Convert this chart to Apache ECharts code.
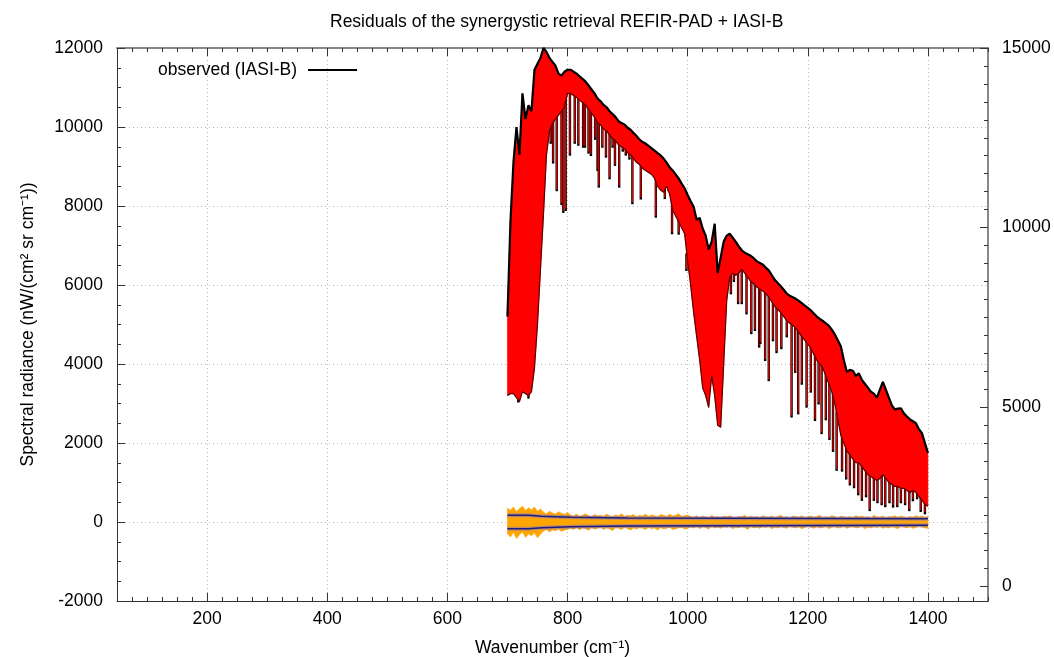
<!DOCTYPE html>
<html><head><meta charset="utf-8">
<script src="https://cdn.jsdelivr.net/npm/echarts@6/dist/echarts.min.js"></script>
<style>html,body{margin:0;padding:0;background:#fff}#c{width:1054px;height:657px}</style>
</head><body><div id="c"></div>
<script>
// ---- data ----
const wavenumbers = [
700,705,710,715,720,725,730,735,740,745,
750,755,760,765,770,775,780,785,790,795,
800,805,810,815,820,825,830,835,840,845,
850,855,860,865,870,875,880,885,890,895,
900,905,910,915,920,925,930,935,940,945,
950,955,960,965,970,975,980,985,990,995,
1000,1005,1010,1015,1020,1025,1030,1035,1040,1045,
1050,1055,1060,1065,1070,1075,1080,1085,1090,1095,
1100,1105,1110,1115,1120,1125,1130,1135,1140,1145,
1150,1155,1160,1165,1170,1175,1180,1185,1190,1195,
1200,1205,1210,1215,1220,1225,1230,1235,1240,1245,
1250,1255,1260,1265,1270,1275,1280,1285,1290,1295,
1300,1305,1310,1315,1320,1325,1330,1335,1340,1345,
1350,1355,1360,1365,1370,1375,1380,1385,1390,1395,
1400];
// upper envelope of the observed spectrum in each 5 cm-1 bin
const observedTop = [
5200,7600,9100,10000,9300,10850,10200,10550,10400,11450,
11600,11750,12000,11900,11750,11650,11550,11350,11300,11400,
11450,11450,11400,11350,11280,11220,11150,11050,10950,10850,
10720,10650,10560,10500,10400,10330,10250,10150,10100,10060,
9980,9930,9850,9770,9680,9620,9580,9520,9460,9400,
9340,9280,9200,9100,8980,8900,8800,8700,8570,8450,
8280,8120,7980,7650,7700,7430,7250,6900,7100,7550,
6300,6700,7100,7250,7300,7200,7100,6980,6880,6820,
6780,6740,6680,6600,6560,6520,6440,6370,6250,6130,
6050,5970,5880,5780,5730,5690,5650,5600,5540,5480,
5420,5360,5280,5200,5140,5090,5030,4970,4870,4750,
4600,4450,4100,3800,3850,3830,3700,3760,3600,3500,
3400,3300,3250,3150,3350,3550,3350,3150,2950,2850,
2870,2880,2750,2670,2600,2550,2500,2350,2250,2000,
1750];
// lower edge of the dense line mass in each bin
const observedBase = [
3200,3250,3250,3150,3050,3300,3250,3200,3300,3900,
5000,6400,7800,9300,9900,10100,10200,10300,10400,10500,
10850,10850,10800,10750,10680,10620,10550,10450,10350,10250,
10100,10050,9950,9900,9800,9700,9650,9550,9500,9450,
9350,9300,9200,9100,9050,8950,8900,8850,8800,8700,
8500,8400,8350,8500,8300,7900,7750,7600,7450,7300,
6600,6000,5300,4700,4100,3400,3200,2900,3700,3200,
2450,2400,4000,5600,6200,6300,6250,6300,6400,6300,
6200,6090,6030,5950,5900,5850,5780,5700,5580,5460,
5380,5300,5200,5100,5030,4980,4900,4800,4700,4600,
4500,4400,4250,4100,4000,3900,3700,3500,3300,3000,
2600,2200,2000,1800,1700,1600,1500,1500,1400,1300,
1200,1150,1100,1050,1100,1200,1100,1000,950,900,
900,850,850,800,750,800,750,650,550,450,
400];
// deep absorption lines: [wavenumber, bottom radiance]
const absorptionLines = [
[718,3050],[735,3150],[772,9600],[776,9100],[782,8400],[790,8050],[793,7850],[797,7900],
[804,9300],[812,9600],[818,9550],[826,9500],[829,9500],[835,9350],[839,9290],[846,9700],
[850,8910],[852,8490],[858,9500],[864,9250],[870,8700],[875,9500],[879,9040],[886,8490],
[892,9400],[897,9300],[903,9200],[908,8070],[915,9330],[922,8190],[927,9000],[932,9200],
[940,8900],[947,7730],[952,8500],[962,8200],[968,8400],[974,7310],[985,7300],[998,6380],
[1072,5790],[1077,6100],[1084,5540],[1090,5540],[1098,5280],[1106,4780],[1112,4860],
[1119,4440],[1121,4530],[1129,4100],[1135,3590],[1142,4600],[1148,4300],[1156,4400],
[1165,4700],[1173,2670],[1179,3800],[1184,2750],[1190,3500],[1198,2920],[1205,3300],
[1212,2580],[1218,3000],[1223,2250],[1230,2600],[1236,2100],[1242,1800],[1248,1320],
[1257,1300],[1264,1100],[1270,950],[1277,880],[1284,700],[1290,560],[1297,650],[1303,300],
[1310,560],[1316,500],[1323,450],[1329,400],[1336,500],[1342,390],[1349,400],[1355,500],
[1362,450],[1369,300],[1375,550],[1382,600],[1388,280],[1395,220]];
// residual (observed - calculated): max and min in each bin
const residualHigh = [
350,300,380,260,340,400,290,360,310,380,
270,330,250,210,270,230,200,260,220,190,
240,180,150,200,140,170,210,160,130,190,
150,170,140,200,160,130,180,150,210,140,
170,160,190,130,170,150,200,140,180,160,
130,190,170,140,200,150,170,210,140,160,
180,140,120,160,110,150,130,100,170,120,
140,110,150,130,160,120,100,140,130,170,
110,150,120,140,100,160,130,120,150,110,
140,170,120,130,100,150,140,120,160,110,
130,150,120,140,170,110,130,120,160,140,
100,150,130,120,140,110,160,130,150,120,
140,100,170,130,120,150,110,140,130,160,
120,150,130,110,140,120,160,130,150,120,
140];
const residualLow = [
-300,-380,-260,-420,-320,-250,-390,-300,-350,-280,
-400,-310,-230,-190,-250,-200,-220,-180,-240,-200,
-190,-160,-190,-140,-200,-150,-170,-210,-140,-180,
-160,-130,-190,-150,-170,-220,-140,-160,-190,-130,
-170,-200,-150,-180,-140,-160,-190,-130,-170,-150,
-200,-140,-180,-160,-130,-190,-170,-150,-140,-180,
-160,-130,-150,-110,-170,-120,-140,-180,-110,-150,
-130,-160,-120,-140,-110,-170,-130,-150,-120,-140,
-190,-110,-150,-130,-160,-120,-140,-110,-170,-130,
-150,-120,-140,-160,-110,-130,-150,-120,-170,-140,
-110,-130,-160,-120,-150,-140,-110,-170,-130,-120,
-150,-140,-110,-160,-130,-120,-150,-140,-110,-170,
-130,-150,-120,-140,-110,-160,-130,-150,-120,-140,
-170,-110,-130,-150,-120,-160,-140,-110,-130,-150,
-160];
// noise level (NESR) steps
const nesrWn  = [700, 735, 757, 805, 900, 1400];
const nesrVal = [170, 147, 118, 100, 85, 85];
// tick labels
const xTickLabels  = [200, 400, 600, 800, 1000, 1200, 1400];
const y2TickLabels = [0, 5000, 10000, 15000];

// ---- build options ----
const pairs = (xs, ys) => xs.map((x, i) => [x, ys[i]]);
const y2Minor = [];
for (let v = 0; v <= 15000; v += 500) y2Minor.push(v);

const font = 'Liberation Sans, Arial, sans-serif';
const FS = 17.5;
const XMIN = 50, XMAX = 1500;
const axisCol = '#333';
const plain = v => String(v);

// band between two per-bin curves, drawn as one polygon through the axes' scales
function bandSeries(upper, lower, color) {
  return {
    type: 'custom', xAxisIndex: 1, yAxisIndex: 0, silent: true, clip: true,
    data: pairs(wavenumbers, upper), encode: {x: 0, y: 1},
    renderItem: function (params, api) {
      if (params.dataIndex !== 0) return null;
      const pts = [];
      for (let i = 0; i < wavenumbers.length; i++) pts.push(api.coord([wavenumbers[i], upper[i]]));
      for (let i = wavenumbers.length - 1; i >= 0; i--) pts.push(api.coord([wavenumbers[i], lower[i]]));
      return {type: 'polygon', shape: {points: pts}, style: {fill: color, stroke: color, lineWidth: 0.6}};
    }
  };
}

const chart = echarts.init(document.getElementById('c'), null, {renderer: 'canvas'});
chart.setOption({
  animation: false,
  backgroundColor: '#fff',
  textStyle: {fontFamily: font},
  title: {
    text: 'Residuals of the synergystic retrieval REFIR-PAD + IASI-B',
    left: 325, top: 8,
    textStyle: {fontFamily: font, fontSize: FS, fontWeight: 'normal', color: '#000'}
  },
  legend: {
    data: ['observed (IASI-B)'],
    left: 153, top: 56, align: 'right',
    icon: 'rect', itemWidth: 49, itemHeight: 2,
    selectedMode: false,
    textStyle: {fontFamily: font, fontSize: FS, color: '#000', padding: [0, 6, 0, 0]}
  },
  grid: {left: 117, right: 66, top: 48, bottom: 56, containLabel: false, outerBoundsMode: 'none'},
  xAxis: [
    { // bottom minor ticks + axis line
      type: 'value', position: 'bottom', min: XMIN, max: XMAX, interval: 25,
      axisLine: {show: true, onZero: false, lineStyle: {color: axisCol, width: 1}},
      axisTick: {show: true, inside: true, length: 4, lineStyle: {color: axisCol}},
      axisLabel: {show: false}, splitLine: {show: false}
    },
    { // bottom major ticks, labels, grid
      type: 'value', position: 'bottom', min: XMIN, max: XMAX,
      name: 'Wavenumber (cm\u207B\u00B9)', nameLocation: 'middle', nameGap: 38,
      nameTextStyle: {fontFamily: font, fontSize: FS, color: '#000'},
      axisLine: {show: false, onZero: false},
      axisTick: {show: true, inside: true, length: 8, customValues: xTickLabels, lineStyle: {color: axisCol}},
      axisLabel: {show: true, customValues: xTickLabels, formatter: plain, margin: 9, fontFamily: font, fontSize: FS, color: '#000'},
      splitLine: {show: true, lineStyle: {color: '#b4b4b4', type: [1, 3], width: 1}}
    },
    { // top minor ticks
      type: 'value', position: 'top', min: XMIN, max: XMAX, interval: 25,
      axisLine: {show: true, onZero: false, lineStyle: {color: '#888', width: 2}},
      axisTick: {show: true, inside: true, length: 4, lineStyle: {color: axisCol}},
      axisLabel: {show: false}, splitLine: {show: false}
    },
    { // top major ticks
      type: 'value', position: 'top', min: XMIN, max: XMAX,
      axisLine: {show: false, onZero: false},
      axisTick: {show: true, inside: true, length: 8, customValues: xTickLabels, lineStyle: {color: axisCol}},
      axisLabel: {show: false}, splitLine: {show: false}
    }
  ],
  yAxis: [
    {
      type: 'value', position: 'left', min: -2000, max: 12000, interval: 2000,
      name: 'Spectral radiance (nW/(cm\u00B2 sr cm\u207B\u00B9))', nameLocation: 'middle', nameGap: 80,
      nameTextStyle: {fontFamily: font, fontSize: FS, color: '#000'},
      axisLine: {show: true, onZero: false, lineStyle: {color: axisCol, width: 1}},
      axisTick: {show: true, inside: true, length: 8, lineStyle: {color: axisCol}},
      minorTick: {show: true, splitNumber: 4, length: 4, lineStyle: {color: axisCol}},
      axisLabel: {margin: 14, formatter: plain, fontFamily: font, fontSize: FS, color: '#000'},
      splitLine: {show: true, lineStyle: {color: '#b4b4b4', type: [1, 3], width: 1}}
    },
    {
      type: 'value', position: 'right', min: -400, max: 15000, interval: 200,
      axisLine: {show: true, onZero: false, lineStyle: {color: '#888', width: 2}},
      axisTick: {show: true, inside: true, length: 8, customValues: y2TickLabels, lineStyle: {color: axisCol}},
      axisLabel: {show: true, customValues: y2TickLabels, formatter: plain, margin: 14, fontFamily: font, fontSize: FS, color: '#000'},
      splitLine: {show: false}
    },
    {
      type: 'value', position: 'right', min: -400, max: 15000, interval: 200,
      axisLine: {show: false, onZero: false},
      axisTick: {show: true, inside: true, length: 4, customValues: y2Minor, lineStyle: {color: axisCol}},
      axisLabel: {show: false}, splitLine: {show: false}
    }
  ],
  series: [
    { // deep absorption lines (observed black, calculated red inside)
      type: 'custom', xAxisIndex: 1, yAxisIndex: 0, silent: true,
      data: absorptionLines,
      encode: {x: 0, y: 1},
      renderItem: function (params, api) {
        const wn = api.value(0), d = api.value(1);
        let idx = Math.round((wn - wavenumbers[0]) / 5);
        idx = Math.max(0, Math.min(wavenumbers.length - 1, idx));
        const p1 = api.coord([wn, observedBase[idx] + 200]);
        const p2 = api.coord([wn, d]);
        return {type: 'group', children: [
          {type: 'line', shape: {x1: p1[0], y1: p1[1], x2: p2[0], y2: p2[1] + 1}, style: {stroke: '#000', lineWidth: 2.4}},
          {type: 'line', shape: {x1: p1[0], y1: p1[1], x2: p2[0], y2: p2[1] - 1}, style: {stroke: '#e60000', lineWidth: 1.2}}
        ]};
      }
    },
    bandSeries(observedTop, observedBase, '#ff0000'),
    { // dark lower edge of line mass
      name: 'edge', type: 'line', xAxisIndex: 1, yAxisIndex: 0,
      data: pairs(wavenumbers, observedBase), symbol: 'none', silent: true,
      lineStyle: {width: 1.2, color: '#5a0000'}
    },
    {
      name: 'observed (IASI-B)', type: 'line', xAxisIndex: 1, yAxisIndex: 0,
      data: pairs(wavenumbers, observedTop), symbol: 'none', silent: true,
      lineStyle: {width: 2.2, color: '#000'}, itemStyle: {color: '#000'}
    },
    bandSeries(residualHigh, residualLow, '#ffa500'),
    {
      name: 'nesrHaloUp', type: 'line', xAxisIndex: 1, yAxisIndex: 0, step: 'end',
      data: pairs(nesrWn, nesrVal), symbol: 'none', silent: true,
      lineStyle: {width: 4, color: 'rgba(110,110,230,0.45)'}
    },
    {
      name: 'nesrHaloDown', type: 'line', xAxisIndex: 1, yAxisIndex: 0, step: 'end',
      data: nesrWn.map((x, i) => [x, -nesrVal[i]]), symbol: 'none', silent: true,
      lineStyle: {width: 4, color: 'rgba(110,110,230,0.45)'}
    },
    {
      name: 'nesrUp', type: 'line', xAxisIndex: 1, yAxisIndex: 0, step: 'end',
      data: pairs(nesrWn, nesrVal), symbol: 'none', silent: true,
      lineStyle: {width: 1.5, color: '#1c1c80'}
    },
    {
      name: 'nesrDown', type: 'line', xAxisIndex: 1, yAxisIndex: 0, step: 'end',
      data: nesrWn.map((x, i) => [x, -nesrVal[i]]), symbol: 'none', silent: true,
      lineStyle: {width: 1.5, color: '#1c1c80'}
    }
  ]
});
</script></body></html>
